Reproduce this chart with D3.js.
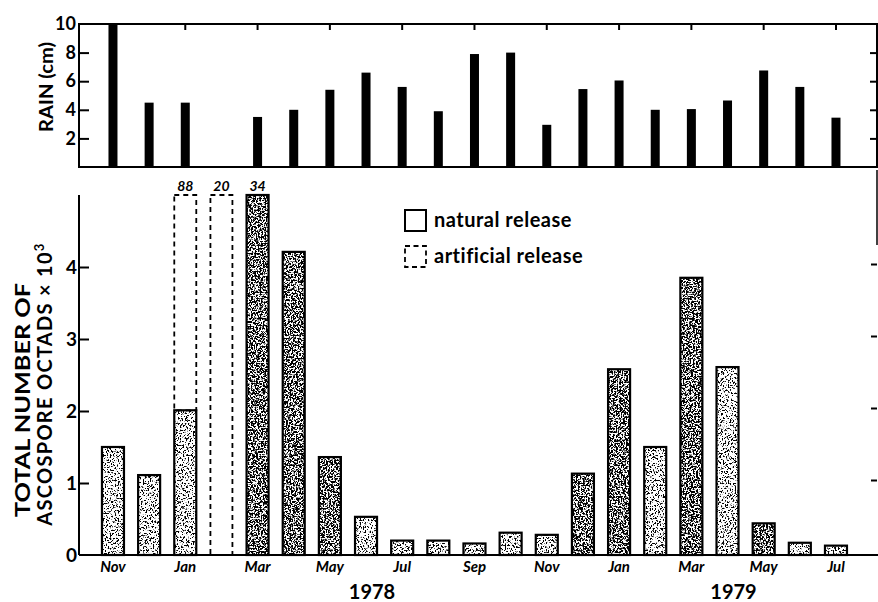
<!DOCTYPE html>
<html>
<head>
<meta charset="utf-8">
<script src="https://cdn.jsdelivr.net/npm/d3@7"></script>
<style>
  html, body { margin: 0; padding: 0; background: #fff; }
  svg { display: block; }
  text { font-family: Lato, "DejaVu Sans", sans-serif; fill: #000; }
</style>
</head>
<body>
<svg id="chart" width="878" height="602"></svg>
<script>
// ---------------- data ----------------
const months = ["1977-11","1977-12","1978-01","1978-02","1978-03","1978-04","1978-05","1978-06",
  "1978-07","1978-08","1978-09","1978-10","1978-11","1978-12","1979-01","1979-02","1979-03",
  "1979-04","1979-05","1979-06","1979-07"];
const monthLabels = ["Nov","","Jan","","Mar","","May","","Jul","","Sep","","Nov","","Jan","","Mar","","May","","Jul"];
// rain, cm
const rain = [10, 4.5, 4.5, null, 3.5, 4.0, 5.4, 6.6, 5.6, 3.9, 7.9, 8.0, 2.95, 5.45, 6.05, 4.0, 4.05, 4.65, 6.75, 5.6, 3.45];
// total number of ascospore octads x 10^3
const natural = [1.5, 1.11, 2.01, null, 34, 4.21, 1.36, 0.53, 0.2, 0.2, 0.16, 0.31, 0.28, 1.13, 2.58, 1.5, 3.85, 2.61, 0.44, 0.17, 0.13];
const artificial = [null, null, 88, 20, null, null, null, null, null, null, null, null, null, null, null, null, null, null, null, null, null];
const rainTicks = [2, 4, 6, 8, 10];
const octadTicks = [0, 1, 2, 3, 4];
const yearLabels = [{label: "1978", month: "1978-06"}, {label: "1979", month: "1979-04"}];
const legendLabels = ["natural release", "artificial release"];
// shading style (dense stipple) per month
const denseShade = ["1978-03","1978-04","1978-05","1978-12","1979-01","1979-03","1979-05"];

// ---------------- layout ----------------
const svg = d3.select("#chart");
const xLeft = 79, xRight = 877;
const x = d3.scaleBand().domain(months).range([94.9, 94.9 + 21 * 36.15]).padding(0);
const cx = m => x(m) + x.bandwidth() / 2;

const yRain = d3.scaleLinear().domain([0, 10]).range([167, 24]);
const yOct = d3.scaleLinear().domain([0, 5]).range([555, 195]);

// stipple filters
const defs = svg.append("defs");
function stipple(id, offset, seed) {
  const f = defs.append("filter").attr("id", id)
    .attr("x", 0).attr("y", 0).attr("width", 1).attr("height", 1)
    .attr("color-interpolation-filters", "sRGB");
  f.append("feTurbulence").attr("type", "fractalNoise").attr("baseFrequency", 0.6)
    .attr("numOctaves", 3).attr("seed", seed).attr("result", "noise");
  f.append("feColorMatrix").attr("in", "noise").attr("type", "matrix")
    .attr("values", `0 0 0 0 0  0 0 0 0 0  0 0 0 0 0  -12 0 0 0 ${offset}`).attr("result", "dots");
  f.append("feComposite").attr("in", "dots").attr("in2", "SourceGraphic").attr("operator", "in");
}
stipple("stipDense", 6.6, 4);
stipple("stipLight", 5.5, 9);

// ---------------- top panel: rain ----------------
const gTop = svg.append("g");
gTop.selectAll("rect.rain").data(months.map((m, i) => ({m, v: rain[i]})).filter(d => d.v != null))
  .join("rect").attr("class", "rain")
  .attr("x", d => cx(d.m) - 4.5).attr("width", 9)
  .attr("y", d => yRain(d.v)).attr("height", d => yRain(0) - yRain(d.v))
  .attr("fill", "#000");

// frame
gTop.append("path").attr("d", `M${xLeft},${yRain(10)}H${xRight}V${yRain(0)}H${xLeft}Z`)
  .attr("fill", "none").attr("stroke", "#000").attr("stroke-width", 2);
// left axis
const axL = d3.axisLeft(yRain).tickValues(rainTicks).tickSize(-10).tickPadding(13).tickFormat(d3.format("d"));
const gL = gTop.append("g").attr("transform", `translate(${xLeft},0)`).call(axL);
gL.select(".domain").remove();
gL.selectAll(".tick line").attr("stroke-width", 2).filter(d => d === 10).remove();
gL.selectAll(".tick text").attr("font-size", 18).attr("font-weight", 700).attr("x", -3);
// right axis ticks
const axR = d3.axisRight(yRain).tickValues([2, 4, 6, 8]).tickSize(-7).tickFormat("");
const gR = gTop.append("g").attr("transform", `translate(${xRight},0)`).call(axR);
gR.select(".domain").remove();
gR.selectAll(".tick line").attr("stroke-width", 2);
// top axis ticks every two months
const axT = d3.axisTop(x).tickValues(months.filter((m, i) => i % 2 === 0 && i > 0)).tickSize(-6).tickFormat("");
const gT = gTop.append("g").attr("transform", `translate(0,${yRain(10)})`).call(axT);
gT.select(".domain").remove();
gT.selectAll(".tick line").attr("stroke-width", 2);

gTop.append("text").attr("transform", `translate(53,87) rotate(-90)`)
  .attr("text-anchor", "middle").attr("font-size", 19).attr("font-weight", 700)
  .attr("textLength", 90).attr("lengthAdjust", "spacingAndGlyphs").text("RAIN (cm)");

// ---------------- bottom panel: octads ----------------
const gBot = svg.append("g");
const yMax = yOct.domain()[1];
const natData = months.map((m, i) => ({m, v: natural[i]})).filter(d => d.v != null);
const artData = months.map((m, i) => ({m, v: artificial[i], base: natural[i] || 0})).filter(d => d.v != null);
const bw = 22;

gBot.selectAll("rect.tex").data(natData).join("rect").attr("class", "tex")
  .attr("x", d => cx(d.m) - bw / 2).attr("width", bw)
  .attr("y", d => yOct(Math.min(d.v, yMax))).attr("height", d => yOct(0) - yOct(Math.min(d.v, yMax)))
  .attr("fill", "#000")
  .attr("filter", d => denseShade.includes(d.m) ? "url(#stipDense)" : "url(#stipLight)");
gBot.selectAll("rect.nat").data(natData).join("rect").attr("class", "nat")
  .attr("x", d => cx(d.m) - bw / 2).attr("width", bw)
  .attr("y", d => yOct(Math.min(d.v, yMax))).attr("height", d => yOct(0) - yOct(Math.min(d.v, yMax)))
  .attr("fill", "none").attr("stroke", "#000").attr("stroke-width", 2.2);
gBot.selectAll("rect.art").data(artData).join("rect").attr("class", "art")
  .attr("x", d => cx(d.m) - bw / 2).attr("width", bw)
  .attr("y", d => yOct(Math.min(d.v, yMax))).attr("height", d => yOct(d.base) - yOct(Math.min(d.v, yMax)))
  .attr("fill", "none").attr("stroke", "#000").attr("stroke-width", 1.8).attr("stroke-dasharray", "5,4");

// labels for truncated bars
const overs = [...artData.filter(d => d.v > yMax), ...natData.filter(d => d.v > yMax)];
gBot.selectAll("text.over").data(overs).join("text").attr("class", "over")
  .attr("x", d => cx(d.m)).attr("y", yOct(yMax) - 4).attr("text-anchor", "middle")
  .attr("font-size", 14).attr("font-style", "italic").attr("font-weight", 700)
  .text(d => d3.format("d")(d.v));

// axes
const axL2 = d3.axisLeft(yOct).tickValues(octadTicks).tickSize(-10).tickPadding(13).tickFormat(d3.format("d"));
const gL2 = gBot.append("g").attr("transform", `translate(${xLeft},0)`).call(axL2);
gL2.select(".domain").remove();
gL2.selectAll(".tick line").attr("stroke-width", 2).filter(d => d === 0).remove();
gL2.selectAll(".tick text").attr("font-size", 19).attr("font-weight", 700).attr("x", -2);
gBot.append("line").attr("x1", xLeft).attr("x2", xLeft).attr("y1", yOct(yMax)).attr("y2", yOct(0))
  .attr("stroke", "#000").attr("stroke-width", 2);
gBot.append("line").attr("x1", xLeft).attr("x2", xRight + 1).attr("y1", yOct(0)).attr("y2", yOct(0))
  .attr("stroke", "#000").attr("stroke-width", 2);
const axR2 = d3.axisRight(yOct).tickValues([1, 2, 3, 4]).tickSize(-6).tickFormat("");
const gR2 = gBot.append("g").attr("transform", `translate(${xRight},-3)`).call(axR2);
gR2.select(".domain").remove();
gR2.selectAll(".tick line").attr("stroke-width", 2);
gBot.append("line").attr("x1", xRight).attr("x2", xRight).attr("y1", 170).attr("y2", 245)
  .attr("stroke", "#000").attr("stroke-width", 1.5);

// month labels
const axB = d3.axisBottom(x).tickSize(0).tickPadding(0).tickFormat(m => monthLabels[months.indexOf(m)]);
const gB = gBot.append("g").attr("transform", `translate(0,${yOct(0)})`).call(axB);
gB.select(".domain").remove();
gB.selectAll(".tick text").attr("dy", null).attr("y", 17).attr("font-size", 15)
  .attr("font-style", "italic").attr("font-weight", 700).attr("font-family", "Lato, sans-serif");

// year labels
gBot.selectAll("text.year").data(yearLabels).join("text").attr("class", "year")
  .attr("x", d => cx(d.month) + 6).attr("y", 599).attr("text-anchor", "middle")
  .attr("font-size", 20).attr("font-weight", 700).text(d => d.label);

// y title
gBot.append("text").attr("transform", `translate(30,400) rotate(-90)`)
  .attr("text-anchor", "middle").attr("font-size", 20).attr("font-weight", 700)
  .attr("textLength", 234).attr("lengthAdjust", "spacingAndGlyphs").text("TOTAL NUMBER OF");
const t2 = gBot.append("text").attr("transform", `translate(52,384) rotate(-90)`)
  .attr("text-anchor", "middle").attr("font-size", 20).attr("font-weight", 700)
  .attr("letter-spacing", 1.3);
t2.append("tspan").text("ASCOSPORE OCTADS \u00d7 10");
t2.append("tspan").attr("dy", -8).attr("font-size", 13).text("3");

// legend
const lg = gBot.append("g");
lg.append("rect").attr("x", 405).attr("y", 210).attr("width", 21).attr("height", 21)
  .attr("fill", "#fff").attr("stroke", "#000").attr("stroke-width", 2);
lg.append("rect").attr("x", 405).attr("y", 246).attr("width", 21).attr("height", 21)
  .attr("fill", "#fff").attr("stroke", "#000").attr("stroke-width", 1.8).attr("stroke-dasharray", "5,3.5");
lg.selectAll("text.lg").data(legendLabels).join("text").attr("class", "lg")
  .attr("x", 434).attr("y", (d, i) => 227 + i * 36)
  .attr("font-size", 20).attr("font-weight", 700).attr("letter-spacing", 0.5).text(d => d);
</script>
</body>
</html>
